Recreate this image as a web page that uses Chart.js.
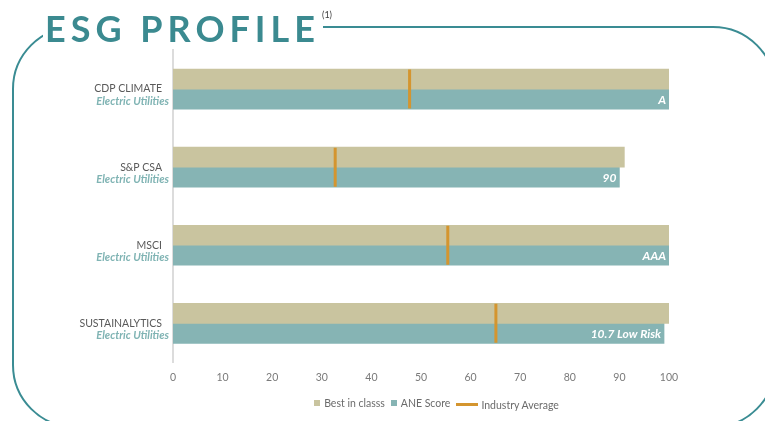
<!DOCTYPE html>
<html>
<head>
<meta charset="utf-8">
<script src="https://cdn.jsdelivr.net/npm/chart.js@4"></script>
<style>
  html, body { margin: 0; padding: 0; background: #fff; }
  #wrap { position: relative; width: 765px; height: 421px; overflow: hidden; background: #fff; }
  #frame { position: absolute; left: 0; top: 0; }
  #title { position: absolute; left: 43px; top: 8px; background: #fff; padding: 0 3px 0 2px;
    font-family: Lato, "Open Sans", sans-serif; font-weight: 700; font-size: 36px; letter-spacing: 5px;
    color: #3b8a90; line-height: 40px; white-space: nowrap; }
  #sup { position: absolute; left: 322px; top: 9px; font-family: Lato, sans-serif; font-size: 9px; color: #404040; }
  #c { position: absolute; left: 0; top: 0; }
  #legend { position: absolute; left: 0; width: 765px; top: 396px; text-align: center;
    font-family: Lato, "Open Sans", sans-serif; font-size: 10.5px; color: #6b6b6b; padding-left: 108px; box-sizing: border-box; }
  #legend span.item { display: inline-flex; align-items: center; margin: 0 3px; }
  #legend .sq { display: inline-block; width: 6px; height: 6px; margin-right: 4px; }
  #legend .ln { display: inline-block; width: 22px; height: 3px; margin-right: 3px; }
</style>
</head>
<body>
<div id="wrap">
  <svg id="frame" width="765" height="421">
    <rect x="13" y="27" width="762" height="400" rx="62" ry="62" fill="none" stroke="#3a8c93" stroke-width="2"/>
  </svg>
  <canvas id="c" width="765" height="421"></canvas>
  <div id="title">ESG PROFILE</div>
  <div id="sup">(1)</div>
  <div id="legend"></div>
</div>
<script>
const categories = ['CDP CLIMATE', 'S&P CSA', 'MSCI', 'SUSTAINALYTICS'];
const subLabels = ['Electric Utilities', 'Electric Utilities', 'Electric Utilities', 'Electric Utilities'];
const bestInClass = [100, 91, 100, 100];
const aneScore = [100, 90, 100, 99];
const industryAverage = [47.7, 32.7, 55.4, 65.1];
const aneLabels = ['A', '90', 'AAA', '10.7 Low Risk'];
const seriesNames = ['Best in classs', 'ANE Score', 'Industry Average'];
const colors = { best: '#c9c49f', ane: '#86b4b4', avg: '#d4952f' };

const labelPlugin = {
  id: 'customLabels',
  afterDatasetsDraw(chart) {
    const ctx = chart.ctx;
    const meta = chart.getDatasetMeta(1);
    ctx.save();
    ctx.fillStyle = '#ffffff';
    ctx.font = 'italic 700 12px Lato, "Open Sans", sans-serif';
    ctx.textAlign = 'right';
    ctx.textBaseline = 'middle';
    meta.data.forEach((bar, i) => {
      ctx.fillText(aneLabels[i], bar.x - 3, bar.y + 1);
    });
    ctx.restore();
  },
  afterDraw(chart) {
    const ctx = chart.ctx;
    const y = chart.scales.y;
    const xRight = chart.chartArea.left - 4;
    ctx.save();
    ctx.textAlign = 'right';
    ctx.textBaseline = 'middle';
    categories.forEach((c, i) => {
      const py = y.getPixelForValue(i);
      ctx.fillStyle = '#595959';
      ctx.font = '400 10.5px Lato, "Open Sans", sans-serif';
      ctx.fillText(c, xRight - 7, py);
      ctx.fillStyle = '#80b4b4';
      ctx.font = 'italic 700 11px Lato, "Open Sans", sans-serif';
      ctx.fillText(subLabels[i], xRight, py + 12.5);
    });
    ctx.restore();
  }
};

new Chart(document.getElementById('c'), {
  type: 'bar',
  data: {
    labels: categories,
    datasets: [
      { label: seriesNames[0], data: bestInClass, backgroundColor: colors.best, barThickness: 20, order: 2 },
      { label: seriesNames[1], data: aneScore, backgroundColor: colors.ane, barThickness: 20, order: 2 },
      { label: seriesNames[2], type: 'line', data: industryAverage, showLine: false,
        pointStyle: 'line', rotation: 90, pointRadius: 19.5, pointHoverRadius: 19.5,
        borderColor: colors.avg, backgroundColor: colors.avg, pointBorderWidth: 3, borderWidth: 3, order: 0 }
    ]
  },
  options: {
    indexAxis: 'y',
    responsive: false,
    animation: false,
    events: [],
    layout: { padding: { left: 173, top: 50, right: 96, bottom: 28 } },
    plugins: { legend: { display: false }, tooltip: { enabled: false } },
    scales: {
      x: {
        min: 0, max: 100,
        ticks: { stepSize: 10, padding: 9, color: '#7a7a7a', font: { family: 'Lato, "Open Sans", sans-serif', size: 10.5 }, maxRotation: 0 },
        grid: { display: false, drawTicks: false },
        border: { display: false }
      },
      y: {
        ticks: { display: false },
        grid: { display: false, drawTicks: false },
        border: { display: true, color: '#dcdcdc', width: 2 },
        afterFit(s) { s.width = 0; }
      }
    }
  },
  plugins: [labelPlugin]
});

const legend = document.getElementById('legend');
legend.innerHTML =
  `<span class="item"><span class="sq" style="background:${colors.best}"></span>${seriesNames[0]}</span>` +
  `<span class="item"><span class="sq" style="background:${colors.ane}"></span>${seriesNames[1]}</span>` +
  `<span class="item"><span class="ln" style="background:${colors.avg}"></span>${seriesNames[2]}</span>`;
</script>
</body>
</html>
